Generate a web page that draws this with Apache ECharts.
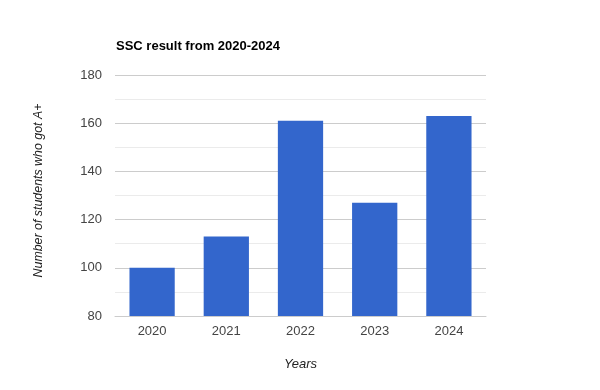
<!DOCTYPE html>
<html>
<head>
<meta charset="utf-8">
<script src="https://cdn.jsdelivr.net/npm/echarts@6/dist/echarts.min.js"></script>
<style>html,body{margin:0;padding:0;background:#fff}#c{width:600px;height:390px}</style>
</head>
<body>
<div id="c"></div>
<script>
const categories = ['2020', '2021', '2022', '2023', '2024'];
const values = [100, 113, 161, 127, 163];
const yTicks = [80, 100, 120, 140, 160, 180];

const chart = echarts.init(document.getElementById('c'), null, {renderer: 'canvas'});
const font = '"Liberation Sans", Arial, sans-serif';
chart.setOption({
  animation: false,
  textStyle: {fontFamily: font},
  title: {
    text: 'SSC result from 2020-2024',
    left: 111, top: 35,
    textStyle: {fontSize: 13, fontWeight: 'bold', color: '#000', fontFamily: font}
  },
  grid: {left: 115, right: 114, top: 75, bottom: 74},
  xAxis: {
    type: 'category',
    data: categories,
    name: 'Years',
    nameLocation: 'middle',
    nameGap: 42,
    nameTextStyle: {fontStyle: 'italic', fontSize: 13, color: '#222', fontFamily: font},
    axisLine: {show: true, lineStyle: {color: '#ccc'}},
    axisTick: {show: false},
    axisLabel: {fontSize: 13, color: '#444', margin: 9, fontFamily: font}
  },
  yAxis: {
    type: 'value',
    min: yTicks[0], max: yTicks[yTicks.length - 1], interval: 20,
    name: 'Number of students who got A+',
    nameLocation: 'middle',
    nameGap: 70,
    nameTextStyle: {fontStyle: 'italic', fontSize: 12.4, color: '#222', fontFamily: font, padding: [0, 0, 0, 10]},
    axisLine: {show: false},
    axisTick: {show: false},
    axisLabel: {fontSize: 13, color: '#444', margin: 13, fontFamily: font},
    splitLine: {lineStyle: {color: '#ccc'}},
    minorTick: {show: false, splitNumber: 2},
    minorSplitLine: {show: true, lineStyle: {color: '#ebebeb'}}
  },
  series: [{
    type: 'bar',
    data: values,
    barCategoryGap: '39%',
    itemStyle: {color: '#3366cc'}
  }]
});
</script>
</body>
</html>
